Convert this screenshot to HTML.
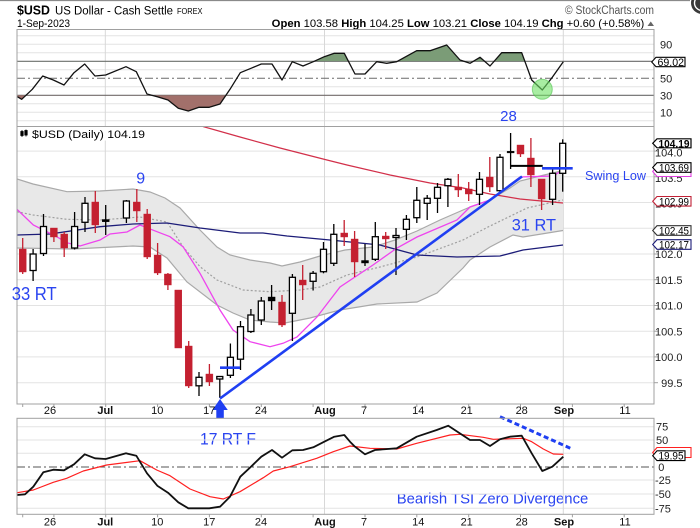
<!DOCTYPE html>
<html><head><meta charset="utf-8">
<style>
html,body{margin:0;padding:0;background:#fff;}
svg{display:block;font-family:"Liberation Sans",Arial,sans-serif;}
</style></head>
<body>
<svg width="700" height="528" viewBox="0 0 700 528" xmlns="http://www.w3.org/2000/svg">
<defs>
<clipPath id="cTop"><rect x="17" y="29.5" width="637" height="97"/></clipPath>
<clipPath id="cMain"><rect x="17" y="126.5" width="637" height="277.5"/></clipPath>
<clipPath id="cBot"><rect x="17" y="418.3" width="637" height="96"/></clipPath>
<clipPath id="cGreen"><rect x="17" y="29.5" width="637" height="31.8"/></clipPath>
<clipPath id="cBrown"><rect x="17" y="95.3" width="637" height="31.2"/></clipPath>
</defs>
<rect width="700" height="528" fill="#fff"/>
<line x1="0" y1="0.5" x2="690" y2="0.5" stroke="#8a8a8a" stroke-width="1.2"/>
<circle cx="702" cy="3" r="11" fill="#3a3a3a"/>
<circle cx="702" cy="3" r="7.5" fill="none" stroke="#fff" stroke-width="1.4"/>

<!-- header -->
<text x="17" y="14.5" font-size="13" font-weight="bold" textLength="33" lengthAdjust="spacingAndGlyphs">$USD</text>
<text x="55" y="14.5" font-size="11.5" textLength="118" lengthAdjust="spacingAndGlyphs">US Dollar - Cash Settle</text>
<text x="177" y="14" font-size="8.5" textLength="25.5" lengthAdjust="spacingAndGlyphs">FOREX</text>
<text x="17" y="27" font-size="11" textLength="53" lengthAdjust="spacingAndGlyphs">1-Sep-2023</text>
<text x="565" y="14" font-size="11.5" fill="#555" textLength="89" lengthAdjust="spacingAndGlyphs">© StockCharts.com</text>
<text x="271.7" y="27" font-size="11" textLength="372.6" lengthAdjust="spacingAndGlyphs"><tspan font-weight="bold">Open</tspan> 103.58 <tspan font-weight="bold">High</tspan> 104.25 <tspan font-weight="bold">Low</tspan> 103.21 <tspan font-weight="bold">Close</tspan> 104.19 <tspan font-weight="bold">Chg</tspan> +0.60 (+0.58%)</text>
<polygon points="647.5,26 654,26 650.75,21.5" fill="#666"/>

<!-- ================= TOP PANEL (RSI) ================= -->
<g stroke="#e3e3e3" stroke-width="1">
<line x1="17" y1="35.8" x2="654" y2="35.8"/>
<line x1="17" y1="44.3" x2="654" y2="44.3"/>
<line x1="17" y1="52.8" x2="654" y2="52.8"/>
<line x1="17" y1="69.8" x2="654" y2="69.8"/>
<line x1="17" y1="86.8" x2="654" y2="86.8"/>
<line x1="17" y1="103.8" x2="654" y2="103.8"/>
<line x1="17" y1="112.3" x2="654" y2="112.3"/>
<line x1="17" y1="120.8" x2="654" y2="120.8"/>
</g>
<g stroke="#d8d8d8" stroke-width="1">
<line x1="105.3" y1="29.5" x2="105.3" y2="126.5"/>
<line x1="324.5" y1="29.5" x2="324.5" y2="126.5"/>
<line x1="563.3" y1="29.5" x2="563.3" y2="126.5"/>
</g>
<line x1="17" y1="61.3" x2="654" y2="61.3" stroke="#6a6a6a" stroke-width="1.1"/>
<line x1="17" y1="95.3" x2="654" y2="95.3" stroke="#6a6a6a" stroke-width="1.1"/>
<line x1="17" y1="78.3" x2="654" y2="78.3" stroke="#6a6a6a" stroke-width="1" stroke-dasharray="8 3 2 3"/>
<g clip-path="url(#cTop)">
<polygon clip-path="url(#cGreen)" fill="#7b9c77" points="17.3,96.7 21.7,99.3 32.3,89.3 42.7,76 53.3,80 64,85 74,72.7 84.7,64 95,76 105.7,75 126,66.7 136.3,71.7 147,94 157.3,96.7 168,100 178.3,108.3 188.3,111 199,107.3 209.3,107.3 220,104 230,89.3 240.3,72.7 251,68.3 261.3,64 272,64 282,80 292.3,61.7 303,66 313.3,61.7 324.3,56.7 334.3,53.3 344.3,53.3 355,74 365,74 376.7,61.7 386.7,63.3 396.7,61.7 416.7,50.7 430,50.7 446.7,45 460,60 470,63.3 480,57.3 490,66 501.7,52.7 521.7,52.7 531.7,80 542.3,90 552.3,77.3 563.3,61.7 563.3,61.3 17.3,61.3"/>
<polygon clip-path="url(#cBrown)" fill="#a2706b" points="17.3,96.7 21.7,99.3 32.3,89.3 42.7,76 53.3,80 64,85 74,72.7 84.7,64 95,76 105.7,75 126,66.7 136.3,71.7 147,94 157.3,96.7 168,100 178.3,108.3 188.3,111 199,107.3 209.3,107.3 220,104 230,89.3 240.3,72.7 251,68.3 261.3,64 272,64 282,80 292.3,61.7 303,66 313.3,61.7 324.3,56.7 334.3,53.3 344.3,53.3 355,74 365,74 376.7,61.7 386.7,63.3 396.7,61.7 416.7,50.7 430,50.7 446.7,45 460,60 470,63.3 480,57.3 490,66 501.7,52.7 521.7,52.7 531.7,80 542.3,90 552.3,77.3 563.3,61.7 563.3,95.3 17.3,95.3"/>
<polyline fill="none" stroke="#111" stroke-width="1.3" stroke-linejoin="round" points="17.3,96.7 21.7,99.3 32.3,89.3 42.7,76 53.3,80 64,85 74,72.7 84.7,64 95,76 105.7,75 126,66.7 136.3,71.7 147,94 157.3,96.7 168,100 178.3,108.3 188.3,111 199,107.3 209.3,107.3 220,104 230,89.3 240.3,72.7 251,68.3 261.3,64 272,64 282,80 292.3,61.7 303,66 313.3,61.7 324.3,56.7 334.3,53.3 344.3,53.3 355,74 365,74 376.7,61.7 386.7,63.3 396.7,61.7 416.7,50.7 430,50.7 446.7,45 460,60 470,63.3 480,57.3 490,66 501.7,52.7 521.7,52.7 531.7,80 542.3,90 552.3,77.3 563.3,61.7"/>
<circle cx="542.3" cy="89.3" r="10" fill="rgba(110,225,100,0.6)" stroke="rgba(70,190,70,0.55)" stroke-width="1"/>
</g>
<text x="508.5" y="121" font-size="15" fill="#2a44f0" text-anchor="middle">28</text>
<rect x="17" y="29.5" width="637" height="97" fill="none" stroke="#a0a0a0" stroke-width="1"/>
<g font-size="11" fill="#222">
<text x="660" y="48.3">90</text>
<text x="660" y="82.3">50</text>
<text x="660" y="99.3">30</text>
<text x="660" y="116.3">10</text>
</g>
<path d="M651.7,62 L656,57.3 L685,57.3 L685,66.7 L656,66.7 Z" fill="#fff" stroke="#000" stroke-width="1.1"/>
<text x="657.5" y="66" font-size="11" textLength="26.5" lengthAdjust="spacingAndGlyphs">69.02</text>

<!-- ================= MAIN PANEL ================= -->
<g stroke="#e3e3e3" stroke-width="1">
<line x1="17" y1="151.1" x2="654" y2="151.1"/>
<line x1="17" y1="176.8" x2="654" y2="176.8"/>
<line x1="17" y1="202.5" x2="654" y2="202.5"/>
<line x1="17" y1="228.3" x2="654" y2="228.3"/>
<line x1="17" y1="254" x2="654" y2="254"/>
<line x1="17" y1="279.7" x2="654" y2="279.7"/>
<line x1="17" y1="305.5" x2="654" y2="305.5"/>
<line x1="17" y1="331.2" x2="654" y2="331.2"/>
<line x1="17" y1="356.9" x2="654" y2="356.9"/>
<line x1="17" y1="382.7" x2="654" y2="382.7"/>
</g>
<g stroke="#d8d8d8" stroke-width="1">
<line x1="105.3" y1="126.5" x2="105.3" y2="404"/>
<line x1="324.5" y1="126.5" x2="324.5" y2="404"/>
<line x1="563.3" y1="126.5" x2="563.3" y2="404"/>
</g>
<g clip-path="url(#cMain)">
<!-- bollinger fill -->
<polygon fill="#e8e8e8" points="17,179 33,184 67,191.7 100,191 133,189 150,192 165,198 180,208 200,230 217,247 230,255 250,260 270,263 282,266 300,262 320,256 345,250 373,247 395,240 417,231 440,220 463,210 470,207 490,200 510,188 520,181 540,176 563,170.5 563,230.5 523,237 513,235 490,247 470,260 463,268 437,293 417,302 377,304 340,310 310,318 300,320 285,323 270,322 250,320 233,313 217,305 187,282 167,258 150,247 133,246 73,249 17,248"/>
<polyline fill="none" stroke="#a9a9a9" stroke-width="1.2" points="17,179 33,184 67,191.7 100,191 133,189 150,192 165,198 180,208 200,230 217,247 230,255 250,260 270,263 282,266 300,262 320,256 345,250 373,247 395,240 417,231 440,220 463,210 470,207 490,200 510,188 520,181 540,176 563,170.5"/>
<polyline fill="none" stroke="#a9a9a9" stroke-width="1.2" points="17,248 73,249 133,246 150,247 167,258 187,282 217,305 233,313 250,320 270,322 285,323 300,320 310,318 340,310 377,304 417,302 437,293 463,268 470,260 490,247 513,235 523,237 563,230.5"/>
<polyline fill="none" stroke="#a0a0a0" stroke-width="1.2" stroke-dasharray="2 2" points="17,211.7 33,215 67,219.3 100,220 140,217 167,222 183,246.7 200,266.7 217,280 243,290 270,291.7 300,290 320,287 347,275 380,267 417,257 463,240 490,226 527,208 563,200"/>
<polyline fill="none" stroke="#1c1c78" stroke-width="1.3" points="17,235 50,234 100,226.7 133,224 167,223 200,228 240,233 263,233 287,236 330,240 380,245 417,255 457,257 500,256 523,250 563,245"/>
<polyline fill="none" stroke="#d2304a" stroke-width="1.2" points="203,126.5 240,137 280,148 327,160 347,165 390,175 430,183 463,188 490,194 520,199 563,203"/>
<polyline fill="none" stroke="#ee44ee" stroke-width="1.3" points="17,209.3 33.3,225 56.7,236.7 66.7,242.7 80,246 100,240 110,234 127,232 140,225 157,231.7 170,236.7 183,246.7 200,273.3 220,310 233,330 250,341.7 270,346.7 283,343.3 297,337 317,317 340,287 373,265 397,248 417,237 457,220 470,207 490,200 520,177 553,176 563,170"/>

<!-- red candles -->
<g stroke="#c42030" fill="#c42030" stroke-width="1.3">
<line x1="22.7" y1="238" x2="22.7" y2="274"/><rect x="19.2" y="249" width="7" height="23" stroke-width="0.4"/>
<line x1="53.9" y1="228" x2="53.9" y2="242"/><rect x="50.4" y="228" width="7" height="9" stroke-width="0.4"/>
<line x1="64.2" y1="232" x2="64.2" y2="257"/><rect x="60.7" y="234" width="7" height="14" stroke-width="0.4"/>
<line x1="95.3" y1="191" x2="95.3" y2="233"/><rect x="91.8" y="202" width="7" height="23" stroke-width="0.4"/>
<line x1="136.8" y1="189" x2="136.8" y2="222"/><rect x="133.3" y="202" width="7" height="9" stroke-width="0.4"/>
<line x1="147.2" y1="209" x2="147.2" y2="259"/><rect x="143.7" y="214" width="7" height="43" stroke-width="0.4"/>
<line x1="157.6" y1="243" x2="157.6" y2="275"/><rect x="154.1" y="255" width="7" height="18" stroke-width="0.4"/>
<line x1="167.9" y1="273" x2="167.9" y2="290"/><rect x="164.4" y="274" width="7" height="11" stroke-width="0.4"/>
<line x1="178.3" y1="290" x2="178.3" y2="348"/><rect x="174.8" y="290" width="7" height="58" stroke-width="0.4"/>
<line x1="188.7" y1="341" x2="188.7" y2="388"/><rect x="185.2" y="346" width="7" height="40" stroke-width="0.4"/>
<line x1="209.4" y1="364" x2="209.4" y2="386"/><rect x="205.9" y="374" width="7" height="8" stroke-width="0.4"/>
<line x1="282" y1="295" x2="282" y2="327"/><rect x="278.5" y="302" width="7" height="23" stroke-width="0.4"/>
<line x1="302.7" y1="265" x2="302.7" y2="300"/><rect x="299.2" y="280" width="7" height="5" stroke-width="0.4"/>
<line x1="344.2" y1="220" x2="344.2" y2="246"/><rect x="340.7" y="233" width="7" height="4" stroke-width="0.4"/>
<line x1="354.6" y1="231" x2="354.6" y2="277"/><rect x="351.1" y="239" width="7" height="23" stroke-width="0.4"/>
<line x1="385.7" y1="232" x2="385.7" y2="249"/><rect x="382.2" y="236" width="7" height="3" stroke-width="0.4"/>
<line x1="458.3" y1="174" x2="458.3" y2="197"/><rect x="454.8" y="187" width="7" height="3" stroke-width="0.4"/>
<line x1="468.7" y1="182" x2="468.7" y2="201"/><rect x="465.2" y="189" width="7" height="5" stroke-width="0.4"/>
<line x1="489.8" y1="157" x2="489.8" y2="192"/><rect x="486.3" y="177" width="7" height="10" stroke-width="0.4"/>
<line x1="520.5" y1="145" x2="520.5" y2="157"/><rect x="517" y="145" width="7" height="9" stroke-width="0.4"/>
<line x1="530.9" y1="138" x2="530.9" y2="187"/><rect x="527.4" y="158" width="7" height="17" stroke-width="0.4"/>
<line x1="541.6" y1="179" x2="541.6" y2="210"/><rect x="538.1" y="179" width="7" height="20" stroke-width="0.4"/>
</g>
<!-- black filled -->
<g stroke="#000" fill="#000" stroke-width="1.3">
<line x1="105.7" y1="205" x2="105.7" y2="235"/><rect x="102.2" y="219.5" width="7" height="2.2" stroke-width="0.4"/>
<line x1="271.6" y1="285" x2="271.6" y2="310"/><rect x="268.1" y="297" width="7" height="4" stroke-width="0.4"/>
<line x1="365" y1="244" x2="365" y2="266"/><rect x="361.5" y="260.5" width="7" height="2.5" stroke-width="0.4"/>
<line x1="510.6" y1="133" x2="510.6" y2="169"/><rect x="507.1" y="151.3" width="7" height="1.6" stroke-width="0.4"/>
</g>
<!-- hollow -->
<g stroke="#000" fill="#fff" stroke-width="1.3">
<line x1="33.1" y1="249" x2="33.1" y2="281"/><rect x="30.1" y="254" width="6" height="16.5"/>
<line x1="43.5" y1="214" x2="43.5" y2="256"/><rect x="40.5" y="226.5" width="6" height="27"/>
<line x1="74.6" y1="212" x2="74.6" y2="249.5"/><rect x="71.6" y="226.5" width="6" height="21.5"/>
<line x1="85" y1="197" x2="85" y2="232"/><rect x="82" y="203.3" width="6" height="19"/>
<line x1="126.4" y1="200" x2="126.4" y2="223"/><rect x="123.4" y="201" width="6" height="17"/>
<line x1="199" y1="372" x2="199" y2="396"/><rect x="196" y="377.3" width="6" height="8.5"/>
<line x1="219.8" y1="376" x2="219.8" y2="398"/><rect x="216.8" y="376.5" width="6" height="2.5"/>
<line x1="230.4" y1="343.5" x2="230.4" y2="378"/><rect x="227.4" y="357.3" width="6" height="18"/>
<line x1="240.5" y1="321" x2="240.5" y2="370"/><rect x="237.5" y="326.7" width="6" height="32.5"/>
<line x1="250.9" y1="309" x2="250.9" y2="333"/><rect x="247.9" y="315" width="6" height="16.5"/>
<line x1="261.3" y1="297" x2="261.3" y2="325"/><rect x="258.3" y="301" width="6" height="19"/>
<line x1="292.4" y1="274" x2="292.4" y2="341"/><rect x="289.4" y="277.3" width="6" height="36"/>
<line x1="313.1" y1="271" x2="313.1" y2="290.5"/><rect x="310.1" y="273.3" width="6" height="8"/>
<line x1="323.5" y1="242" x2="323.5" y2="273.3"/><rect x="320.5" y="249.3" width="6" height="22.4"/>
<line x1="333.8" y1="224" x2="333.8" y2="266"/><rect x="330.8" y="234.3" width="6" height="29"/>
<line x1="375.3" y1="222" x2="375.3" y2="261"/><rect x="372.3" y="236.7" width="6" height="22.6"/>
<line x1="396" y1="228" x2="396" y2="275"/><rect x="393" y="235.5" width="6" height="2"/>
<line x1="406.4" y1="215" x2="406.4" y2="240"/><rect x="403.4" y="219.3" width="6" height="10"/>
<line x1="416.8" y1="187" x2="416.8" y2="223"/><rect x="413.8" y="200.3" width="6" height="17.4"/>
<line x1="427.2" y1="195" x2="427.2" y2="220"/><rect x="424.2" y="198.3" width="6" height="5"/>
<line x1="437.5" y1="183" x2="437.5" y2="213"/><rect x="434.5" y="187.3" width="6" height="11"/>
<line x1="447.9" y1="178" x2="447.9" y2="207"/><rect x="444.9" y="179.3" width="6" height="6.4"/>
<line x1="479.5" y1="172" x2="479.5" y2="205"/><rect x="476.5" y="179.3" width="6" height="15"/>
<line x1="500" y1="154" x2="500" y2="192"/><rect x="497" y="157.3" width="6" height="33.4"/>
<line x1="552.6" y1="168.3" x2="552.6" y2="205"/><rect x="549.6" y="173.3" width="6" height="26"/>
<line x1="562.7" y1="139.3" x2="562.7" y2="191.7"/><rect x="559.7" y="143.3" width="6" height="30"/>
</g>
<!-- annotation lines -->
<line x1="511" y1="165.9" x2="542.7" y2="165.9" stroke="#000" stroke-width="2"/>
<line x1="542" y1="168.3" x2="572.7" y2="168.3" stroke="#1f3ff2" stroke-width="2.6"/>
<line x1="220" y1="398.5" x2="522" y2="176.5" stroke="#1f3ff2" stroke-width="2.6"/>
<line x1="220" y1="367.7" x2="240" y2="367.7" stroke="#1f3ff2" stroke-width="2.6"/>
</g>
<!-- legend -->
<rect x="17.5" y="127" width="131" height="13.5" fill="#fff"/>
<g fill="#000" stroke="#000" stroke-width="0.8">
<line x1="22" y1="130" x2="22" y2="137"/><rect x="20.8" y="131.5" width="2.4" height="4"/>
<line x1="26" y1="129.5" x2="26" y2="136.5"/><rect x="24.8" y="130.5" width="2.4" height="4.5"/>
</g>
<text x="32" y="137.8" font-size="11" textLength="113" lengthAdjust="spacingAndGlyphs">$USD (Daily) 104.19</text>

<rect x="17" y="126.5" width="637" height="277.5" fill="none" stroke="#a0a0a0" stroke-width="1"/>

<!-- main annotations text -->
<g fill="#2a44f0">
<text x="140.7" y="183.4" font-size="16" text-anchor="middle">9</text>
<text x="11.7" y="300" font-size="18" textLength="45" lengthAdjust="spacingAndGlyphs">33 RT</text>
<text x="511.7" y="230.7" font-size="17" textLength="44.3" lengthAdjust="spacingAndGlyphs">31 RT</text>
<text x="585" y="179.8" font-size="13" textLength="61" lengthAdjust="spacingAndGlyphs">Swing Low</text>
<text x="200" y="444.3" font-size="16.5" textLength="56" lengthAdjust="spacingAndGlyphs">17 RT F</text>
<text x="396.7" y="503.5" font-size="15" textLength="191.6" lengthAdjust="spacingAndGlyphs">Bearish TSI Zero Divergence</text>
</g>
<polygon points="220,399 212.5,410 216.3,410 216.3,418.5 223.8,418.5 223.8,410 227.8,410" fill="#1f3ff2"/>

<!-- right axis main -->
<g stroke="#a0a0a0" stroke-width="1">
<line x1="654" y1="151.1" x2="658" y2="151.1"/>
<line x1="654" y1="176.8" x2="658" y2="176.8"/>
<line x1="654" y1="202.5" x2="658" y2="202.5"/>
<line x1="654" y1="228.3" x2="658" y2="228.3"/>
<line x1="654" y1="254" x2="658" y2="254"/>
<line x1="654" y1="279.7" x2="658" y2="279.7"/>
<line x1="654" y1="305.5" x2="658" y2="305.5"/>
<line x1="654" y1="331.2" x2="658" y2="331.2"/>
<line x1="654" y1="356.9" x2="658" y2="356.9"/>
<line x1="654" y1="382.7" x2="658" y2="382.7"/>
</g>
<g font-size="11" fill="#222" text-anchor="end">
<text x="682.5" y="156.3">104.0</text>
<text x="682.5" y="182">103.5</text>
<text x="682.5" y="207.7">103.0</text>
<text x="682.5" y="233.5">102.5</text>
<text x="682.5" y="258.2">102.0</text>
<text x="682.5" y="283.9">101.5</text>
<text x="682.5" y="309.7">101.0</text>
<text x="682.5" y="335.4">100.5</text>
<text x="682.5" y="361.1">100.0</text>
<text x="682.5" y="386.9">99.5</text>
</g>
<path d="M652.7,171.5 L657,166.5 L691,166.5 L691,176.5 L657,176.5 Z" fill="#fff" stroke="#e040e0" stroke-width="1.1"/>
<path d="M652.7,167.5 L657,162.7 L691,162.7 L691,172.3 L657,172.3 Z" fill="#fff" stroke="#000" stroke-width="1.1"/>
<text x="659" y="171.5" font-size="11" textLength="30" lengthAdjust="spacingAndGlyphs">103.69</text>
<path d="M652.7,143.3 L657,138.8 L691,138.8 L691,147.8 L657,147.8 Z" fill="#fff" stroke="#000" stroke-width="1.2"/>
<text x="658.5" y="147.3" font-size="11" font-weight="bold" textLength="31" lengthAdjust="spacingAndGlyphs">104.19</text>
<path d="M652.7,201.3 L657,196.5 L691,196.5 L691,206.1 L657,206.1 Z" fill="#fff" stroke="#c02035" stroke-width="1.1"/>
<text x="659" y="205.3" font-size="11" textLength="30" lengthAdjust="spacingAndGlyphs">102.99</text>
<path d="M652.7,230.5 L657,225.7 L691,225.7 L691,235.3 L657,235.3 Z" fill="#fff" stroke="#333" stroke-width="1.1"/>
<text x="659" y="234.5" font-size="11" textLength="30" lengthAdjust="spacingAndGlyphs">102.45</text>
<path d="M652.7,244.5 L657,239.7 L691,239.7 L691,249.3 L657,249.3 Z" fill="#fff" stroke="#1c1c78" stroke-width="1.1"/>
<text x="659" y="248.5" font-size="11" textLength="30" lengthAdjust="spacingAndGlyphs">102.17</text>

<!-- x-axis main -->
<g stroke="#a0a0a0" stroke-width="1">
<line x1="22.7" y1="404" x2="22.7" y2="407"/><line x1="53.9" y1="404" x2="53.9" y2="407"/><line x1="105.7" y1="404" x2="105.7" y2="407"/><line x1="157.6" y1="404" x2="157.6" y2="407"/><line x1="209.4" y1="404" x2="209.4" y2="407"/><line x1="261.3" y1="404" x2="261.3" y2="407"/><line x1="313.1" y1="404" x2="313.1" y2="407"/><line x1="365" y1="404" x2="365" y2="407"/><line x1="416.8" y1="404" x2="416.8" y2="407"/><line x1="468.7" y1="404" x2="468.7" y2="407"/><line x1="520.5" y1="404" x2="520.5" y2="407"/><line x1="572.4" y1="404" x2="572.4" y2="407"/><line x1="624.2" y1="404" x2="624.2" y2="407"/>
<line x1="22.7" y1="514.3" x2="22.7" y2="517.3"/><line x1="53.9" y1="514.3" x2="53.9" y2="517.3"/><line x1="105.7" y1="514.3" x2="105.7" y2="517.3"/><line x1="157.6" y1="514.3" x2="157.6" y2="517.3"/><line x1="209.4" y1="514.3" x2="209.4" y2="517.3"/><line x1="261.3" y1="514.3" x2="261.3" y2="517.3"/><line x1="313.1" y1="514.3" x2="313.1" y2="517.3"/><line x1="365" y1="514.3" x2="365" y2="517.3"/><line x1="416.8" y1="514.3" x2="416.8" y2="517.3"/><line x1="468.7" y1="514.3" x2="468.7" y2="517.3"/><line x1="520.5" y1="514.3" x2="520.5" y2="517.3"/><line x1="572.4" y1="514.3" x2="572.4" y2="517.3"/><line x1="624.2" y1="514.3" x2="624.2" y2="517.3"/>
</g>
<g font-size="11" fill="#111" text-anchor="middle">
<text x="50" y="414">26</text>
<text x="105.3" y="414" font-weight="bold">Jul</text>
<text x="157.3" y="414">10</text>
<text x="209.3" y="414">17</text>
<text x="261" y="414">24</text>
<text x="325" y="414" font-weight="bold">Aug</text>
<text x="364" y="414">7</text>
<text x="418.3" y="414">14</text>
<text x="466.7" y="414">21</text>
<text x="521.7" y="414">28</text>
<text x="564" y="414" font-weight="bold">Sep</text>
<text x="625" y="414">11</text>
<text x="50" y="525.6">26</text>
<text x="105.3" y="525.6" font-weight="bold">Jul</text>
<text x="157.3" y="525.6">10</text>
<text x="209.3" y="525.6">17</text>
<text x="261" y="525.6">24</text>
<text x="325" y="525.6" font-weight="bold">Aug</text>
<text x="364" y="525.6">7</text>
<text x="418.3" y="525.6">14</text>
<text x="466.7" y="525.6">21</text>
<text x="521.7" y="525.6">28</text>
<text x="564" y="525.6" font-weight="bold">Sep</text>
<text x="625" y="525.6">11</text>
</g>

<!-- ================= BOTTOM PANEL (TSI) ================= -->
<g stroke="#e3e3e3" stroke-width="1">
<line x1="17" y1="426.7" x2="654" y2="426.7"/>
<line x1="17" y1="440" x2="654" y2="440"/>
<line x1="17" y1="453.3" x2="654" y2="453.3"/>
<line x1="17" y1="480" x2="654" y2="480"/>
<line x1="17" y1="494" x2="654" y2="494"/>
<line x1="17" y1="508.3" x2="654" y2="508.3"/>
</g>
<g stroke="#d8d8d8" stroke-width="1">
<line x1="105.3" y1="418.3" x2="105.3" y2="514.3"/>
<line x1="324.5" y1="418.3" x2="324.5" y2="514.3"/>
<line x1="563.3" y1="418.3" x2="563.3" y2="514.3"/>
</g>
<line x1="17" y1="467" x2="654" y2="467" stroke="#555" stroke-width="1" stroke-dasharray="8 3 2 3"/>
<g clip-path="url(#cBot)">
<polyline fill="none" stroke="#ff2020" stroke-width="1.2" stroke-linejoin="round" points="17.3,492.7 33.3,490 53.3,482.3 66.7,478.3 83.3,471 106.7,465 140,460.7 156.7,470 170,475.7 190,489 210,496.7 223.3,499 240,491.7 263.3,477.7 273.3,471 290,466.7 316.7,458.3 333.3,451.7 350,446 370,448.3 396.7,449 416.7,443.3 450,435 460,434.3 483.3,437.3 493.3,439.3 523.3,438.3 531.7,441.7 543.3,449 553.3,454 563.3,454.3"/>
<polyline fill="none" stroke="#111" stroke-width="1.8" stroke-linejoin="round" points="17.3,495 25,494.3 33.3,486.7 43.3,472.3 53.3,469.7 64,470.3 74,464.3 84.7,454.3 95,458.3 105.7,459 126,453.3 136.3,455.7 147,473.3 157.3,485.7 168,492.7 178.3,502.3 188.3,508.3 209.3,508.3 220,506.7 230,496.7 240.3,476.7 251,466.7 261.3,456.7 272,450 282,457.7 292.3,450.3 303,450 313.3,447.3 324.3,441.7 334.3,436.7 344.3,435 350,441.7 355,446.7 365,454.3 375,450 396.7,448.3 416.7,436.7 436.7,430 448.3,425.7 470,440 480,440 490,446 500,439.3 510,436.7 521.7,435.7 531.7,453.3 542.3,471 552.3,466.7 563.3,456.7"/>
</g>
<line x1="500" y1="416.7" x2="572.7" y2="449.3" stroke="#1f3ff2" stroke-width="3" stroke-dasharray="5 3"/>
<rect x="17" y="418.3" width="637" height="96" fill="none" stroke="#a0a0a0" stroke-width="1"/>
<g font-size="11" fill="#222">
<text x="656" y="430.7">75</text>
<text x="656" y="444">50</text>
<text x="656" y="457.3">25</text>
<text x="658.3" y="471">0</text>
<text x="655" y="484">-25</text>
<text x="655" y="498">-50</text>
<text x="655" y="512.3">-75</text>
</g>
<path d="M652.7,452.5 L657,447.5 L691,447.5 L691,457.5 L657,457.5 Z" fill="#fff" stroke="#ff2020" stroke-width="1.1"/>
<path d="M652.7,455.7 L657,450.8 L685,450.8 L685,460.6 L657,460.6 Z" fill="#fff" stroke="#000" stroke-width="1.1"/>
<text x="658.5" y="459.7" font-size="11" textLength="25" lengthAdjust="spacingAndGlyphs">19.95</text>
</svg>
</body></html>
